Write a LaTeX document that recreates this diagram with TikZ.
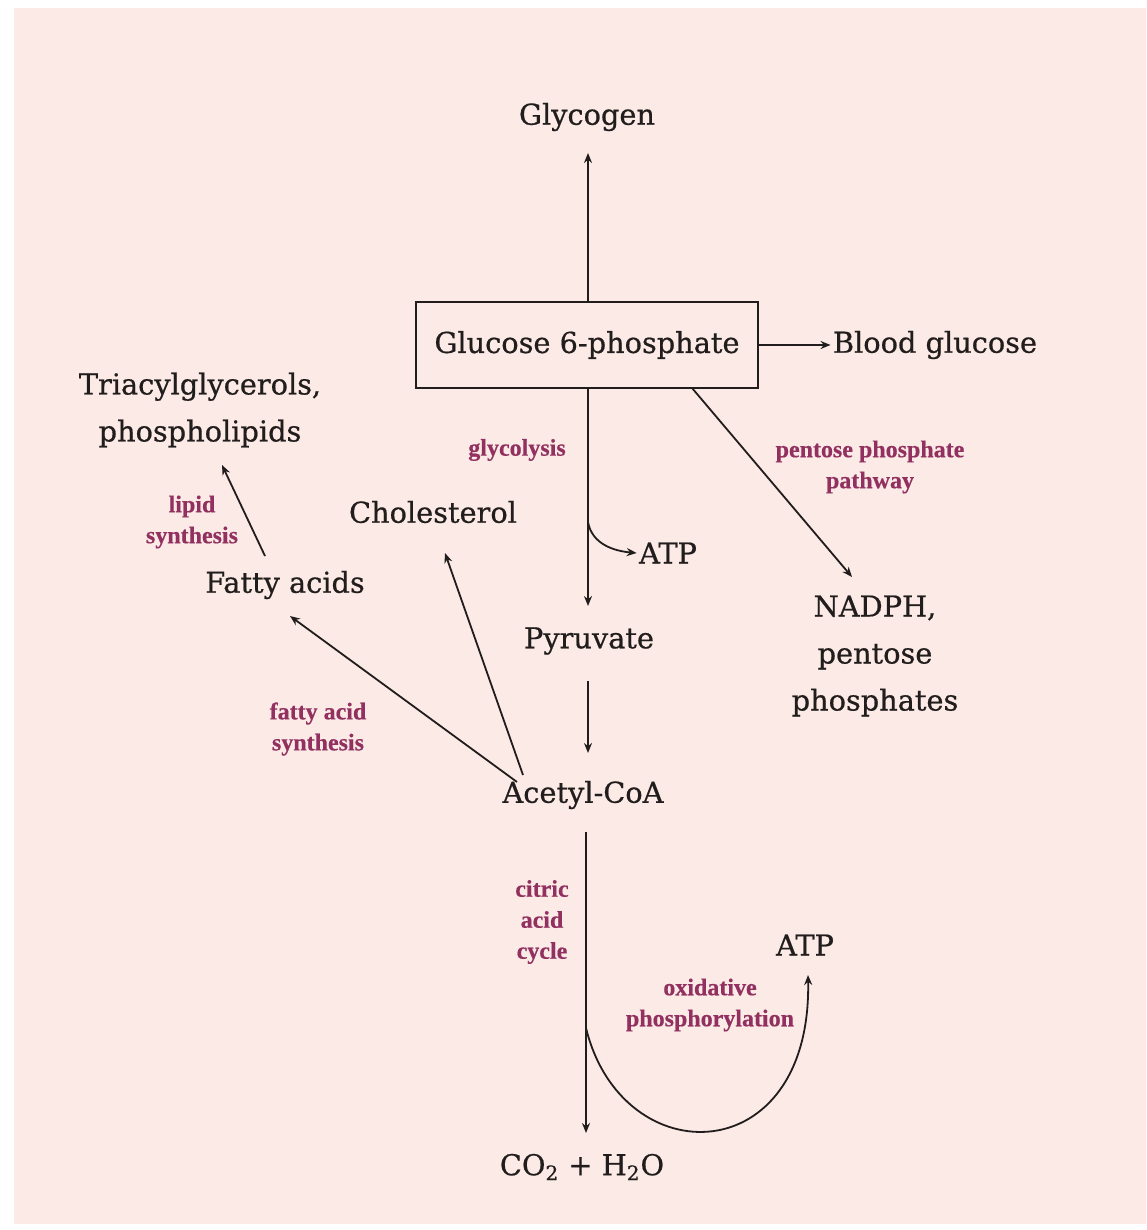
\documentclass[tikz,border=0pt]{standalone}
\usepackage{fontspec}
\setmainfont{DejaVu Serif}
\newfontfamily\molfont{DejaVu Serif}[BoldFont={DejaVu Serif},BoldFeatures={FakeBold=0.6}]
\newfontfamily\lblfont{Liberation Serif}[BoldFeatures={FakeBold=0.4}]
\usetikzlibrary{arrows.meta}
\definecolor{paper}{HTML}{FBEAE5}
\definecolor{ink}{HTML}{221D1D}
\definecolor{lbl}{HTML}{923060}
\tikzset{
  mol/.style={text=ink, inner sep=1pt, font=\molfont\bfseries\fontsize{14.4}{23.5}\selectfont, align=center},
  path/.style={text=lbl, inner sep=1pt, font=\lblfont\bfseries\fontsize{12}{15.5}\selectfont, align=center},
  rxn/.style={draw=ink, line width=0.9pt, -{Stealth[length=5pt,width=4pt]}},
}
\begin{document}
\begin{tikzpicture}[x=0.5pt,y=-0.5pt]
\useasboundingbox (0,0) rectangle (1146,1230);
\fill[white] (0,0) rectangle (1146,1230);
\fill[paper] (14,8) rectangle (1146,1224);
% nodes
\node[mol] (gly) at (587,117) {Glycogen};
\node[mol, draw=ink, line width=1.1pt, minimum width=171pt, minimum height=43pt] (g6p) at (587,345) {Glucose 6-phosphate};
\node[mol] (bg) at (935,345) {Blood glucose};
\node[mol] (tag) at (200,410) {Triacylglycerols,\\phospholipids};
\node[path] (lglyc) at (517,450) {glycolysis};
\node[path] (lppp) at (870,467) {pentose phosphate\\pathway};
\node[mol] (chol) at (433,512) {Cholesterol};
\node[path] (llip) at (192,522) {lipid\\synthesis};
\node[mol] (atp1) at (668,553) {ATP};
\node[mol] (fa) at (285,585) {Fatty acids};
\node[mol] (pyr) at (589,641) {Pyruvate};
\node[mol] (nadph) at (875,656) {NADPH,\\pentose\\phosphates};
\node[path] (lfas) at (318,729) {fatty acid\\synthesis};
\node[mol] (acoa) at (583,795) {Acetyl-CoA};
\node[path] (ltca) at (542,922) {citric\\acid\\cycle};
\node[mol] (atp2) at (805,945) {ATP};
\node[path] (loxp) at (710,1005) {oxidative\\phosphorylation};
\node[mol] (co2) at (582,1167) {CO\textsubscript{2} + H\textsubscript{2}O};
% helper coordinates
\coordinate (gtop) at (588,302);
\coordinate (gbot) at (588,388);
\coordinate (pyrtop) at (588,606);
\coordinate (glyend) at (588,153);
\coordinate (branch1) at (588,522);
\coordinate (pptail) at (692,388);
\coordinate (pphead) at (852,577);
\coordinate (pyrbot) at (588,681);
\coordinate (acoatop) at (588,753);
\coordinate (acoabot) at (586,832);
\coordinate (co2top) at (586,1133);
\coordinate (branch2) at (586,1028);
\coordinate (atp2bot) at (808,975);
\coordinate (fatail) at (517,782);
\coordinate (fahead) at (290,616);
\coordinate (choltail) at (523,775);
\coordinate (cholhead) at (445,553);
\coordinate (lipidtail) at (265,556);
\coordinate (lipidhead) at (222,465);
% connectors
\draw[rxn] (gtop) -- (glyend);
\draw[rxn] (g6p.east) -- (bg.west);
\draw[rxn] (gbot) -- (pyrtop);
\draw[rxn] (branch1) to[out=-80,in=175] (atp1.west);
\draw[rxn] (pptail) -- (pphead);
\draw[rxn] (pyrbot) -- (acoatop);
\draw[rxn] (fatail) -- (fahead);
\draw[rxn] (choltail) -- (cholhead);
\draw[rxn] (lipidtail) -- (lipidhead);
\draw[rxn] (acoabot) -- (co2top);
\draw[rxn] (branch2) .. controls (622,1175) and (812,1172) .. (atp2bot);
\end{tikzpicture}
\end{document}
